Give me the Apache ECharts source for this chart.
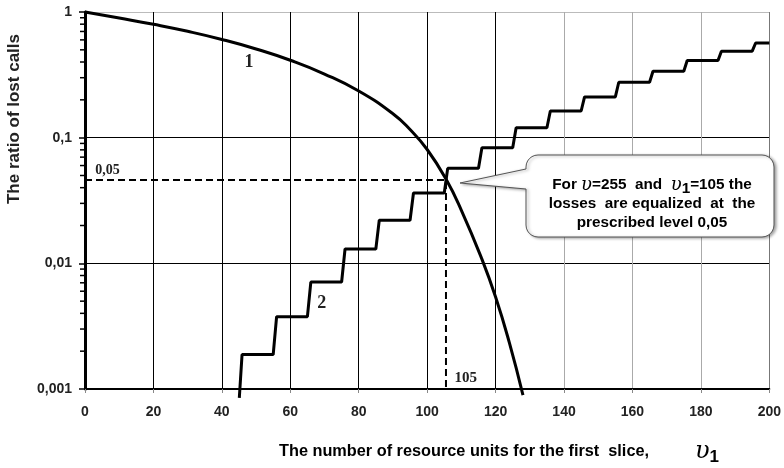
<!DOCTYPE html>
<html>
<head>
<meta charset="utf-8">
<script src="https://cdn.jsdelivr.net/npm/echarts@6/dist/echarts.min.js"></script>
<style>
	html, body { margin: 0; padding: 0; background: #fff; }
	#chart { width: 784px; height: 468px; }
</style>
</head>
<body>
<div id="chart"></div>
<script>
// curve 1 : losses of the first slice
var curve1X = [0, 10, 20, 30, 40, 50, 60, 70, 80, 90, 95, 100, 105.5, 110, 116, 120, 124, 128];
var curve1Y = [1, 0.895, 0.798, 0.702, 0.605, 0.508, 0.413, 0.321, 0.235, 0.155, 0.116, 0.0805, 0.0468, 0.0264, 0.0108, 0.0054, 0.00235, 0.000895];

// curve 2 : losses of the second slice (staircase)
var curve2X = [45.1, 45.9, 55, 56, 65, 66, 75, 76, 85, 86, 95, 96, 105, 106, 115, 116, 125, 126, 135, 136,
	145, 146, 155, 156, 165, 166, 175, 176, 185, 186, 195, 196, 200];
var curve2Y = [0.00085, 0.00188, 0.00188, 0.00376, 0.00376, 0.0071, 0.0071, 0.013, 0.013, 0.022, 0.022, 0.0363, 0.0363, 0.057, 0.057, 0.083, 0.083, 0.12, 0.12, 0.163,
	0.163, 0.211, 0.211, 0.276, 0.276, 0.338, 0.338, 0.411, 0.411, 0.488, 0.488, 0.567, 0.567];

// equal loss level and the matching v1
var levelX = [0, 105.5, 105.5];
var levelY = [0.046, 0.046, 0.001];

var yTickLabels = ['0,001', '0,01', '0,1', '1'];
var minorTicks = [0.002, 0.003, 0.004, 0.005, 0.006, 0.007, 0.008, 0.009,
	0.02, 0.03, 0.04, 0.05, 0.06, 0.07, 0.08, 0.09,
	0.2, 0.3, 0.4, 0.5, 0.6, 0.7, 0.8, 0.9];

function pairs(xs, ys) {
	var out = [];
	for (var i = 0; i < xs.length; i++) {
		out.push([xs[i], ys[i]]);
	}
	return out;
}

var sans = 'Liberation Sans';
var serif = 'Liberation Serif';

var chart = echarts.init(document.getElementById('chart'));

var option = {
	animation : false,
	backgroundColor : '#fff',
	grid : {
		left : 85,
		right : 14,
		top : 12,
		bottom : 79
	},
	xAxis : {
		type : 'value',
		min : 0,
		max : 200,
		interval : 20,
		axisLine : { lineStyle : { color : '#000', width : 2 } },
		axisTick : { length : 4, lineStyle : { color : '#888' } },
		axisLabel : {
			margin : 16,
			color : '#222',
			fontFamily : sans,
			fontWeight : 'bold',
			fontSize : 14
		},
		splitLine : {
			show : true,
			lineStyle : {
				width : 1,
				color : [ '#000', '#000', '#000', '#000', '#000', '#000', '#000', '#aaa', '#aaa', '#aaa', '#777' ]
			}
		}
	},
	yAxis : {
		type : 'log',
		logBase : 10,
		min : 0.001,
		max : 1,
		axisLine : { show : true, onZero : false, lineStyle : { color : '#000', width : 3 } },
		axisTick : { show : true, length : 6, lineStyle : { color : '#000', width : 1.5 } },
		axisLabel : {
			margin : 13,
			color : '#222',
			fontFamily : sans,
			fontWeight : 'bold',
			fontSize : 14,
			formatter : function(v) {
				return yTickLabels[Math.round(Math.log10(v)) + 3];
			}
		},
		splitLine : {
			show : true,
			lineStyle : { width : 1, color : [ '#000', '#000', '#000', '#bbb' ] }
		}
	},
	series : [ {
		name : 'minor ticks',
		type : 'custom',
		silent : true,
		clip : false,
		data : minorTicks.map(function(v) { return [0, v]; }),
		renderItem : function(params, api) {
			var p = api.coord([0, api.value(1)]);
			return {
				type : 'line',
				shape : { x1 : p[0] - 5, y1 : p[1], x2 : p[0], y2 : p[1] },
				style : { stroke : '#000', lineWidth : 1.5 }
			};
		}
	}, {
		name : 'level',
		type : 'line',
		symbol : 'none',
		clip : false,
		data : pairs(levelX, levelY),
		lineStyle : { color : '#000', width : 2, type : [7, 4] },
		z : 3
	}, {
		name : '1',
		type : 'line',
		symbol : 'none',
		smooth : 0.5,
		clip : false,
		data : pairs(curve1X, curve1Y),
		lineStyle : { color : '#000', width : 3 },
		z : 4
	}, {
		name : '2',
		type : 'line',
		symbol : 'none',
		clip : false,
		data : pairs(curve2X, curve2Y),
		lineStyle : { color : '#000', width : 3 },
		z : 4
	} ]
};
chart.setOption(option);

// annotations placed through the chart's own coordinate system
function at(x, y) {
	return chart.convertToPixel({ gridIndex : 0 }, [x, y]);
}
var p1 = at(47.9, 0.40);
var p2 = at(69.2, 0.0048);
var p05 = at(3.0, 0.055);
var p105 = at(108, 0.00122);

// callout bubble outline (rounded box with a pointer on its left side)
var bx = 526, by = 155, bw = 248, bh = 82, r = 12;
var tip = [460, 183];
function corner(cx, cy, a0) {
	var pts = [];
	for (var k = 0; k <= 6; k++) {
		var a = a0 + k * Math.PI / 12;
		pts.push([cx + r * Math.cos(a), cy + r * Math.sin(a)]);
	}
	return pts;
}
var bubblePts = [[bx, 169]]
	.concat(corner(bx + r, by + r, Math.PI))
	.concat(corner(bx + bw - r, by + r, Math.PI * 1.5))
	.concat(corner(bx + bw - r, by + bh - r, 0))
	.concat(corner(bx + r, by + bh - r, Math.PI * 0.5))
	.concat([[bx, 189], tip]);

var richBase = { fontFamily : sans, fontWeight : 'bold', fontSize : 15.3, color : '#222' };

chart.setOption({
	graphic : [ {
		type : 'text',
		x : p1[0], y : p1[1],
		style : { text : '1', fontFamily : serif, fontWeight : 'bold', fontSize : 18, fill : '#222', align : 'center', verticalAlign : 'middle' }
	}, {
		type : 'text',
		x : p2[0], y : p2[1],
		style : { text : '2', fontFamily : serif, fontWeight : 'bold', fontSize : 18, fill : '#222', align : 'center', verticalAlign : 'middle' }
	}, {
		type : 'text',
		x : p05[0], y : p05[1],
		style : { text : '0,05', fontFamily : serif, fontWeight : 'bold', fontSize : 14, fill : '#222', align : 'left', verticalAlign : 'middle' }
	}, {
		type : 'text',
		x : p105[0], y : p105[1],
		style : { text : '105', fontFamily : serif, fontWeight : 'bold', fontSize : 15, fill : '#222', align : 'left', verticalAlign : 'middle' }
	}, {
		type : 'polygon',
		shape : { points : bubblePts },
		style : {
			fill : '#fff',
			stroke : '#555',
			lineWidth : 1,
			shadowBlur : 3,
			shadowOffsetX : 2,
			shadowOffsetY : 1,
			shadowColor : 'rgba(0,0,0,0.35)'
		},
		z : 10
	}, {
		type : 'text',
		x : 652, y : 204,
		z : 11,
		style : {
			text : '{a|For }{v|υ}{a|=255  and  }{v|υ}{s|1}{a|=105 the}\n{a|losses  are equalized  at  the}\n{a|prescribed level 0,05}',
			align : 'center',
			verticalAlign : 'middle',
			lineHeight : 19,
			rich : {
				a : richBase,
				v : { fontFamily : 'DejaVu Serif', fontStyle : 'italic', fontSize : 18, color : '#222' },
				s : { fontFamily : sans, fontWeight : 'bold', fontSize : 15.3, color : '#222', padding : [7, 0, 0, 0] }
			}
		}
	}, {
		type : 'text',
		x : 14, y : 119,
		rotation : Math.PI / 2,
		style : {
			text : 'The ratio of lost calls',
			fontFamily : sans, fontWeight : 'bold', fontSize : 17, fill : '#222',
			align : 'center', verticalAlign : 'middle'
		}
	}, {
		type : 'text',
		x : 279, y : 452,
		style : {
			text : '{a|The number of resource units for the first  slice,}{v|υ}{s|1}',
			align : 'left',
			verticalAlign : 'middle',
			rich : {
				a : { fontFamily : sans, fontWeight : 'bold', fontSize : 16.3, color : '#222' },
				v : { fontFamily : 'DejaVu Serif', fontStyle : 'italic', fontSize : 24, color : '#222', padding : [0, 0, 0, 46] },
				s : { fontFamily : sans, fontWeight : 'bold', fontSize : 17, color : '#222', padding : [11, 0, 0, 0] }
			}
		}
	} ]
});
</script>
</body>
</html>
